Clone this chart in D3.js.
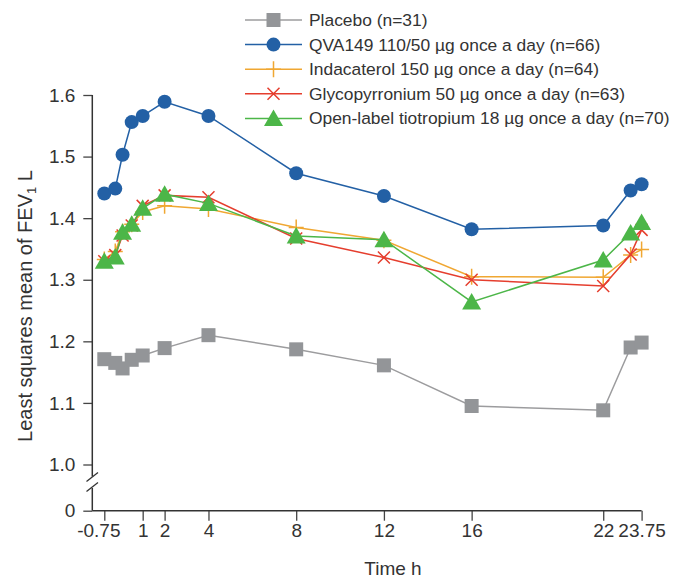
<!DOCTYPE html>
<html>
<head>
<meta charset="utf-8">
<script src="https://cdn.jsdelivr.net/npm/d3@7"></script>
<style>
  html, body { margin: 0; padding: 0; background: #fff; }
  svg { display: block; font-family: "Liberation Sans", Arial, sans-serif; }
</style>
</head>
<body>
<svg id="chart" width="686" height="581"></svg>
<script>
// ---- data ----
const times = [-0.75, -0.25, 0.083, 0.5, 1, 2, 4, 8, 12, 16, 22, 23.25, 23.75];
const placebo = [1.171, 1.165, 1.156, 1.170, 1.177, 1.189, 1.210, 1.187, 1.161, 1.095, 1.088, 1.190, 1.198];
const qva149 = [1.440, 1.448, 1.503, 1.556, 1.566, 1.589, 1.566, 1.473, 1.436, 1.382, 1.388, 1.445, 1.455];
const indacaterol = [1.333, 1.346, 1.378, 1.390, 1.410, 1.420, 1.415, 1.385, 1.364, 1.305, 1.304, 1.340, 1.349];
const glycopyrronium = [1.330, 1.340, 1.372, 1.388, 1.420, 1.437, 1.434, 1.367, 1.336, 1.300, 1.290, 1.341, 1.381];
const tiotropium = [1.330, 1.337, 1.377, 1.390, 1.416, 1.439, 1.424, 1.371, 1.365, 1.264, 1.332, 1.376, 1.393];

const seriesNames = [
  "Placebo (n=31)",
  "QVA149 110/50 µg once a day (n=66)",
  "Indacaterol 150 µg once a day (n=64)",
  "Glycopyrronium 50 µg once a day (n=63)",
  "Open-label tiotropium 18 µg once a day (n=70)"
];
const xTickValues = [-0.75, 1, 2, 4, 8, 12, 16, 22, 23.75];
const xTickLabels = ["-0.75", "1", "2", "4", "8", "12", "16", "22", "23.75"];
const yTickValues = [0, 1.0, 1.1, 1.2, 1.3, 1.4, 1.5, 1.6];
const yTickLabels = ["0", "1.0", "1.1", "1.2", "1.3", "1.4", "1.5", "1.6"];

const series = [
  {name: seriesNames[0], values: placebo, color: "#939598", line: "#9c9c9e", marker: "square"},
  {name: seriesNames[1], values: qva149, color: "#2360a5", line: "#2360a5", marker: "circle"},
  {name: seriesNames[2], values: indacaterol, color: "#f0a732", line: "#f0a732", marker: "plus"},
  {name: seriesNames[3], values: glycopyrronium, color: "#e53e2e", line: "#e53e2e", marker: "cross"},
  {name: seriesNames[4], values: tiotropium, color: "#4cb648", line: "#4cb648", marker: "triangle"}
];

// ---- layout ----
const axisX = 92.3;
const axisBottom = 510.7;
const textColor = "#333";

const x = d3.scaleLinear().domain([-0.75, 23.75]).range([104.3, 641.6]);
const y = d3.scaleLinear().domain([0, 1.0, 1.6]).range([axisBottom, 464.5, 95]);

const svg = d3.select("#chart");

// y axis
const yAxis = d3.axisLeft(y)
  .tickValues(yTickValues)
  .tickFormat((d, i) => yTickLabels[i])
  .tickSize(9).tickPadding(8);
const gy = svg.append("g").attr("transform", `translate(${axisX},0)`).call(yAxis);
gy.select(".domain").remove();
gy.selectAll(".tick line").attr("stroke", "#444").attr("stroke-width", 1.3);
gy.selectAll(".tick text").attr("fill", textColor).style("font-size", "19px")
  .style("font-family", "'Liberation Sans', Arial, sans-serif");

// y axis line with break
svg.append("line").attr("x1", axisX).attr("x2", axisX).attr("y1", y(1.6)).attr("y2", 476.5)
  .attr("stroke", "#333").attr("stroke-width", 1.5);
svg.append("line").attr("x1", axisX).attr("x2", axisX).attr("y1", 488).attr("y2", axisBottom)
  .attr("stroke", "#333").attr("stroke-width", 1.5);
[[86.5, 481.5, 98, 472.5], [86.5, 491.5, 98, 482.5]].forEach(s => {
  svg.append("line").attr("x1", s[0]).attr("y1", s[1]).attr("x2", s[2]).attr("y2", s[3])
    .attr("stroke", "#333").attr("stroke-width", 1.3);
});

// x axis
const xAxis = d3.axisBottom(x)
  .tickValues(xTickValues)
  .tickFormat((d, i) => xTickLabels[i])
  .tickSize(10).tickPadding(3);
const gx = svg.append("g").attr("transform", `translate(0,${axisBottom})`).call(xAxis);
gx.select(".domain").remove();
gx.selectAll(".tick line").attr("stroke", "#444").attr("stroke-width", 1.3);
gx.selectAll(".tick text").attr("fill", textColor).style("font-size", "19px")
  .style("font-family", "'Liberation Sans', Arial, sans-serif");
gx.selectAll(".tick text").filter((d, i) => i === 0).attr("dx", -6);
svg.append("line").attr("x1", axisX).attr("x2", x(23.75)).attr("y1", axisBottom).attr("y2", axisBottom)
  .attr("stroke", "#333").attr("stroke-width", 1.5);

// axis titles
const yTitle = svg.append("text")
  .attr("transform", "translate(32,306) rotate(-90)")
  .attr("text-anchor", "middle").attr("fill", textColor).style("font-size", "20px");
yTitle.append("tspan").text("Least squares mean of FEV");
yTitle.append("tspan").attr("dy", 4).style("font-size", "13px").text("1");
yTitle.append("tspan").attr("dy", -4).text(" L");

svg.append("text").attr("x", 393).attr("y", 575).attr("text-anchor", "middle")
  .attr("fill", textColor).style("font-size", "19px").text("Time h");

// markers
function drawMarker(g, type, cx, cy, color) {
  if (type === "square") {
    g.append("rect").attr("x", cx - 7).attr("y", cy - 7).attr("width", 14).attr("height", 14).attr("fill", color);
  } else if (type === "circle") {
    g.append("circle").attr("cx", cx).attr("cy", cy).attr("r", 7).attr("fill", color);
  } else if (type === "plus") {
    g.append("path").attr("d", `M${cx - 7.5},${cy}H${cx + 7.5}M${cx},${cy - 8}V${cy + 8}`)
      .attr("stroke", color).attr("stroke-width", 1.5).attr("fill", "none");
  } else if (type === "cross") {
    g.append("path").attr("d", `M${cx - 6},${cy - 6}L${cx + 6},${cy + 6}M${cx - 6},${cy + 6}L${cx + 6},${cy - 6}`)
      .attr("stroke", color).attr("stroke-width", 1.5).attr("fill", "none");
  } else if (type === "triangle") {
    g.append("path").attr("d", `M${cx},${cy - 9}L${cx + 9.5},${cy + 7.5}L${cx - 9.5},${cy + 7.5}Z`)
      .attr("fill", color);
  }
}

const line = d3.line().x(d => x(d[0])).y(d => y(d[1]));
const plot = svg.append("g");
series.forEach(s => {
  const pts = times.map((t, i) => [t, s.values[i]]);
  const g = plot.append("g");
  g.append("path").datum(pts).attr("d", line).attr("fill", "none")
    .attr("stroke", s.line).attr("stroke-width", 1.5);
  pts.forEach(p => drawMarker(g, s.marker, x(p[0]), y(p[1]), s.color));
});

// legend
const legendY0 = 20, legendStep = 24.6;
const legend = svg.append("g");
series.forEach((s, i) => {
  const ly = legendY0 + i * legendStep;
  const g = legend.append("g");
  g.append("line").attr("x1", 245).attr("x2", 302).attr("y1", ly).attr("y2", ly)
    .attr("stroke", s.line).attr("stroke-width", 1.5);
  drawMarker(g, s.marker, 273.5, ly, s.color);
  g.append("text").attr("x", 309).attr("y", ly + 6).attr("fill", textColor)
    .style("font-size", "17.4px").text(s.name);
});
</script>
</body>
</html>
